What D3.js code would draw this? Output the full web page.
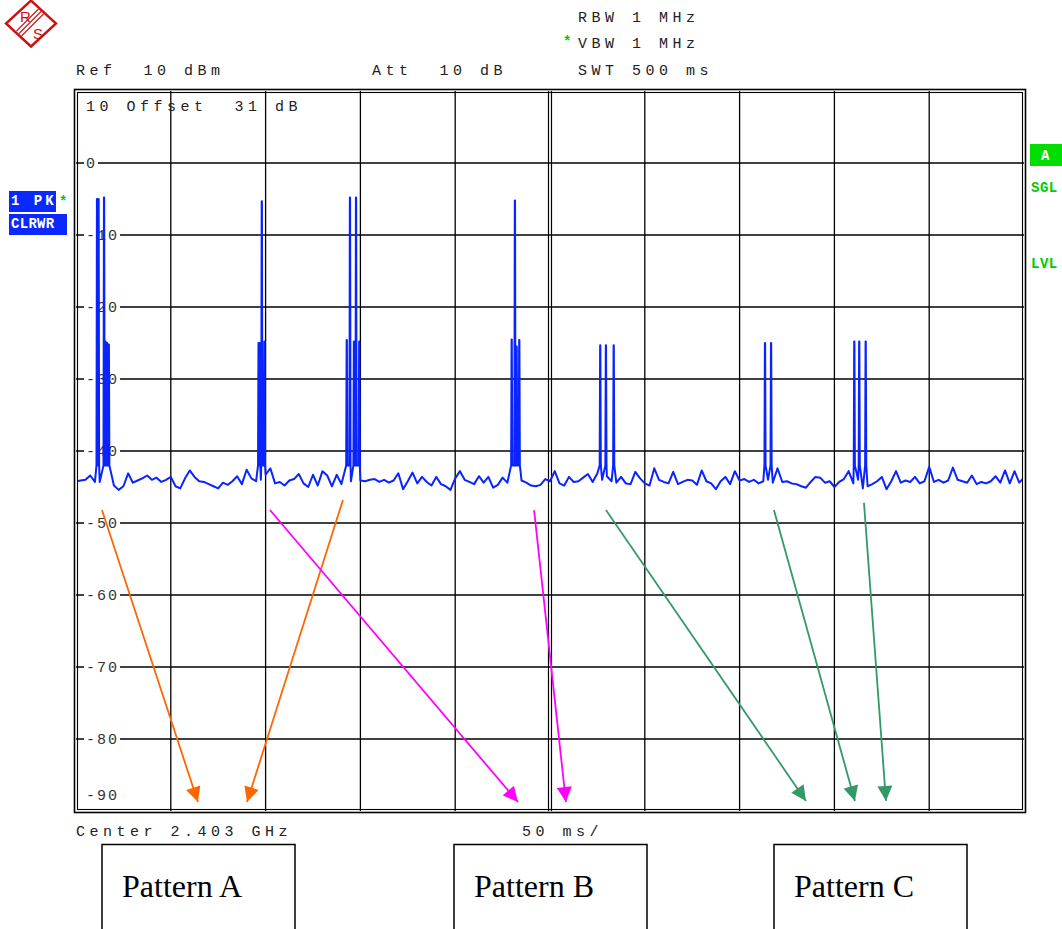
<!DOCTYPE html>
<html>
<head>
<meta charset="utf-8">
<script src="https://d3js.org/d3.v7.min.js"></script>
<style>
  body { margin: 0; background: #fff; }
  .mono { font-family: "Liberation Mono", "DejaVu Sans Mono", monospace; white-space: pre; }
</style>
</head>
<body>
<div id="chart"></div>
<script>
// ---- data ----
// sweep: 0..500 ms (50 ms/div), level: +10..-90 dBm (10 dB/div)
const sweepMs = [0, 500];
const levelDb = [-90, 10];
const xDivs = [0, 50, 100, 150, 200, 250, 300, 350, 400, 450, 500];
const yTicks = [0, -10, -20, -30, -40, -50, -60, -70, -80, -90];

// noise floor, one value every 2.5 ms
const noiseStep = 2.5;
const noiseFloor = [
  -44.2, -44.1, -44.0, -43.4, -44.3, -44.3, -43.5, -43.2, -44.8, -45.4,
  -44.9, -43.1, -44.4, -44.1, -43.8, -43.4, -44.0, -43.7, -44.3, -44.0,
  -43.6, -44.9, -45.2, -43.8, -42.7, -43.6, -44.2, -44.3, -44.6, -44.9,
  -45.2, -44.4, -44.7, -44.2, -43.5, -44.6, -42.6, -43.8, -44.2, -44.0,
  -43.3, -42.4, -44.5, -44.3, -44.8, -44.1, -43.9, -43.2, -44.5, -45.0,
  -43.3, -44.8, -42.8, -43.4, -44.9, -43.3, -44.6, -44.0, -44.2, -44.3,
  -44.1, -44.2, -44.0, -43.9, -44.3, -44.0, -44.4, -44.1, -43.1, -45.3,
  -44.2, -43.0, -44.5, -43.6, -44.3, -44.8, -43.6, -44.6, -44.9, -45.4,
  -43.8, -42.8, -44.0, -44.3, -44.6, -43.5, -44.4, -43.6, -45.1, -44.7,
  -43.7, -44.4, -44.2, -44.0, -44.1, -44.4, -44.8, -44.9, -44.7, -43.9,
  -44.2, -42.8, -44.5, -44.8, -43.6, -44.3, -44.2, -43.7, -43.2, -44.3,
  -43.1, -44.0, -43.5, -44.2, -44.4, -43.6, -44.5, -44.6, -42.9, -43.8,
  -44.5, -44.8, -42.4, -44.0, -44.3, -44.5, -42.9, -44.6, -44.3, -44.0,
  -44.1, -44.7, -42.7, -44.2, -44.5, -45.3, -44.2, -43.6, -44.6, -42.8,
  -44.1, -43.9, -44.3, -44.0, -44.5, -44.2, -44.0, -44.4, -42.4, -44.3,
  -44.2, -44.5, -44.6, -44.9, -45.1, -44.3, -43.6, -43.7, -44.4, -44.2,
  -45.0, -44.3, -43.9, -42.8, -44.5, -44.0, -45.2, -44.9, -44.6, -44.2,
  -43.6, -45.3, -44.2, -42.8, -44.4, -44.1, -44.3, -43.6, -44.5, -44.2,
  -42.2, -44.3, -44.0, -44.4, -44.1, -42.3, -44.0, -44.2, -44.4, -43.4,
  -44.6, -44.3, -44.5, -44.2, -43.5, -44.4, -42.7, -44.5, -42.8, -44.4,
  -43.7
];

// burst spikes (time in ms, peak level in dBm)
const spikeTimes = [
  11.1, 11.9, 14.8, 15.6, 16.4, 17.3,
  96.3, 96.9, 98.0, 99.4,
  142.8, 144.5, 146.6, 147.7, 149.4,
  229.8, 231.5, 232.4, 233.8,
  276.5, 279.5, 283.6,
  363.4, 366.6,
  410.5, 413.1, 416.5
];
const spikeLevels = [
  -5.0, -5.0, -4.8, -24.8, -25.0, -25.2,
  -25.0, -25.0, -5.3, -24.8,
  -24.6, -4.8, -24.8, -4.8, -24.8,
  -24.5, -5.2, -25.5, -24.6,
  -25.3, -25.3, -25.3,
  -25.0, -25.0,
  -24.8, -24.8, -24.8
];
const burstFloor = -42;

// annotation arrows (ms, dBm)
const arrowFrom = [[13.7, -48.2], [140.8, -46.8], [102.3, -48.2], [241.6, -48.2], [279.5, -48.2], [368.1, -48.2], [415.6, -47.2]];
const arrowTo   = [[64.3, -88.75], [90.2, -88.75], [233.1, -88.75], [258.4, -88.75], [385.0, -88.6], [410.8, -88.6], [427.2, -88.6]];
const arrowColors = ["#ff6600", "#ff6600", "#ff00ff", "#ff00ff", "#339966", "#339966", "#339966"];

const patternLabels = ["Pattern A", "Pattern B", "Pattern C"];

// ---- drawing ----
var width = 1062, height = 929;
var svg = d3.select("#chart").append("svg")
  .attr("width", width).attr("height", height);

var x = d3.scaleLinear().domain(sweepMs).range([76, 1024]);
var y = d3.scaleLinear().domain(levelDb).range([811, 91]);

// R&S logo
var logo = svg.append("g").attr("transform", "translate(31,23.5)");
logo.append("polygon").attr("points", "0,-23 25,0 0,23 -25,0")
  .attr("fill", "#fff").attr("stroke", "#cc1111").attr("stroke-width", 2.4);
[-2.5, 0, 2.5].forEach(function(o) {
  logo.append("line")
    .attr("x1", -12 + o).attr("y1", 10 + o).attr("x2", 10 + o).attr("y2", -12 + o)
    .attr("stroke", "#cc1111").attr("stroke-width", 1.1);
});
logo.append("text").attr("x", -11).attr("y", -2).text("R")
  .attr("font-family", "Liberation Sans").attr("font-size", 15).attr("fill", "#cc1111");
logo.append("text").attr("x", 2).attr("y", 15).text("S")
  .attr("font-family", "Liberation Sans").attr("font-size", 15).attr("fill", "#cc1111");

// header text
function mono(txt, px, py, opts) {
  opts = opts || {};
  return svg.append("text").attr("class", "mono")
    .attr("x", px).attr("y", py).text(txt)
    .attr("font-size", opts.size || 15)
    .attr("font-weight", opts.weight || "normal")
    .style("letter-spacing", (opts.ls === undefined ? 4.5 : opts.ls) + "px")
    .attr("fill", opts.fill || "#222");
}
mono("RBW 1 MHz", 578, 22);
mono("VBW 1 MHz", 578, 48);
mono("*", 563, 46, {fill: "#00cc00", weight: "bold", size: 14, ls: 0});
mono("SWT 500 ms", 578, 75);
mono("Ref  10 dBm", 76, 75);
mono("Att  10 dB", 372, 75);
mono("Center 2.403 GHz", 76, 836);
mono("50 ms/", 522, 836);

// grid
var grid = svg.append("g");
xDivs.slice(1, -1).forEach(function(d) {
  if (d === 250) {
    [-1.5, 1.5].forEach(function(o) {
      grid.append("line").attr("x1", x(d) + o).attr("x2", x(d) + o)
        .attr("y1", y(10)).attr("y2", y(-90))
        .attr("stroke", "#000").attr("stroke-width", 1.2);
    });
  } else {
    grid.append("line").attr("x1", x(d)).attr("x2", x(d))
      .attr("y1", y(10)).attr("y2", y(-90))
      .attr("stroke", "#000").attr("stroke-width", 1.3);
  }
});
yTicks.slice(0, -1).forEach(function(d) {
  grid.append("line").attr("x1", x(0)).attr("x2", x(500))
    .attr("y1", y(d)).attr("y2", y(d))
    .attr("stroke", "#000").attr("stroke-width", 1.3);
});

// frame (double line)
svg.append("rect").attr("x", 74.5).attr("y", 89.5).attr("width", 951).attr("height", 723)
  .attr("fill", "none").attr("stroke", "#000").attr("stroke-width", 1.6);
svg.append("rect").attr("x", 77.5).attr("y", 92.5).attr("width", 945).attr("height", 717)
  .attr("fill", "none").attr("stroke", "#000").attr("stroke-width", 1.1);

// y tick labels, knocked out of the grid line
yTicks.forEach(function(d) {
  var label = d === 0 ? "0" : String(d);
  var py = d === -90 ? y(d) - 11 : y(d) + 5;
  var w = label.length * 11;
  if (d !== -90) {
    svg.append("rect").attr("x", 84).attr("y", y(d) - 3).attr("width", w + 3).attr("height", 6)
      .attr("fill", "#fff");
  }
  mono(label, 86, py, {ls: 2, fill: "#333"});
});
mono("10 Offset  31 dB", 86, 111);

// trace
var pts = noiseFloor.map(function(v, i) { return [i * noiseStep, v]; })
  .filter(function(p) {
    return !spikeTimes.some(function(t) { return Math.abs(p[0] - t) < 0.35; });
  });
spikeTimes.forEach(function(t, k) {
  pts.push([t - 0.3, burstFloor], [t - 0.06, spikeLevels[k]],
           [t + 0.06, spikeLevels[k]], [t + 0.3, burstFloor]);
});
pts.sort(function(a, b) { return a[0] - b[0]; });

svg.append("clipPath").attr("id", "plotclip").append("rect")
  .attr("x", 78).attr("y", 93).attr("width", 944).attr("height", 716);
svg.append("path")
  .attr("clip-path", "url(#plotclip)")
  .attr("d", d3.line().x(function(p) { return x(p[0]); }).y(function(p) { return y(p[1]); })(pts))
  .attr("fill", "none").attr("stroke", "#0a24ff").attr("stroke-width", 2)
  .attr("stroke-linejoin", "round");

// trace / status labels
svg.append("rect").attr("x", 9).attr("y", 191).attr("width", 47).attr("height", 21).attr("fill", "#0a28ff");
svg.append("rect").attr("x", 9).attr("y", 214).attr("width", 58).attr("height", 21).attr("fill", "#0a28ff");
mono("1 PK", 11, 205, {fill: "#fff", weight: "bold", size: 14, ls: 3});
mono("CLRWR", 11, 228, {fill: "#fff", weight: "bold", size: 14, ls: 0.3});
mono("*", 59, 206, {fill: "#00cc00", weight: "bold", size: 14, ls: 0});

svg.append("rect").attr("x", 1030).attr("y", 144).attr("width", 32).attr("height", 22).attr("fill", "#00dd00");
mono("A", 1041, 160, {fill: "#fff", weight: "bold", size: 14, ls: 0});
mono("SGL", 1031, 192, {fill: "#00cc00", weight: "bold", size: 14, ls: 0.5});
mono("LVL", 1031, 268, {fill: "#00cc00", weight: "bold", size: 14, ls: 0.5});

// arrows
var defs = svg.append("defs");
arrowColors.forEach(function(c, i) {
  defs.append("marker").attr("id", "ah" + i)
    .attr("viewBox", "0 0 10 10").attr("refX", 10).attr("refY", 5)
    .attr("markerWidth", 16).attr("markerHeight", 15).attr("markerUnits", "userSpaceOnUse")
    .attr("orient", "auto")
    .append("path").attr("d", "M0,0 L10,5 L0,10 Z").attr("fill", c);
});
arrowFrom.forEach(function(a, i) {
  svg.append("line")
    .attr("x1", x(a[0])).attr("y1", y(a[1]))
    .attr("x2", x(arrowTo[i][0])).attr("y2", y(arrowTo[i][1]))
    .attr("stroke", arrowColors[i]).attr("stroke-width", 1.8)
    .attr("marker-end", "url(#ah" + i + ")");
});

// pattern boxes
var boxX = [102, 454, 774];
patternLabels.forEach(function(t, i) {
  svg.append("rect").attr("x", boxX[i]).attr("y", 844.5).attr("width", 193).attr("height", 100)
    .attr("fill", "none").attr("stroke", "#000").attr("stroke-width", 1.5);
  svg.append("text").attr("x", boxX[i] + 20).attr("y", 897).text(t)
    .attr("font-family", "Liberation Serif, Times New Roman, serif")
    .attr("font-size", 32).attr("fill", "#000");
});
</script>
</body>
</html>
